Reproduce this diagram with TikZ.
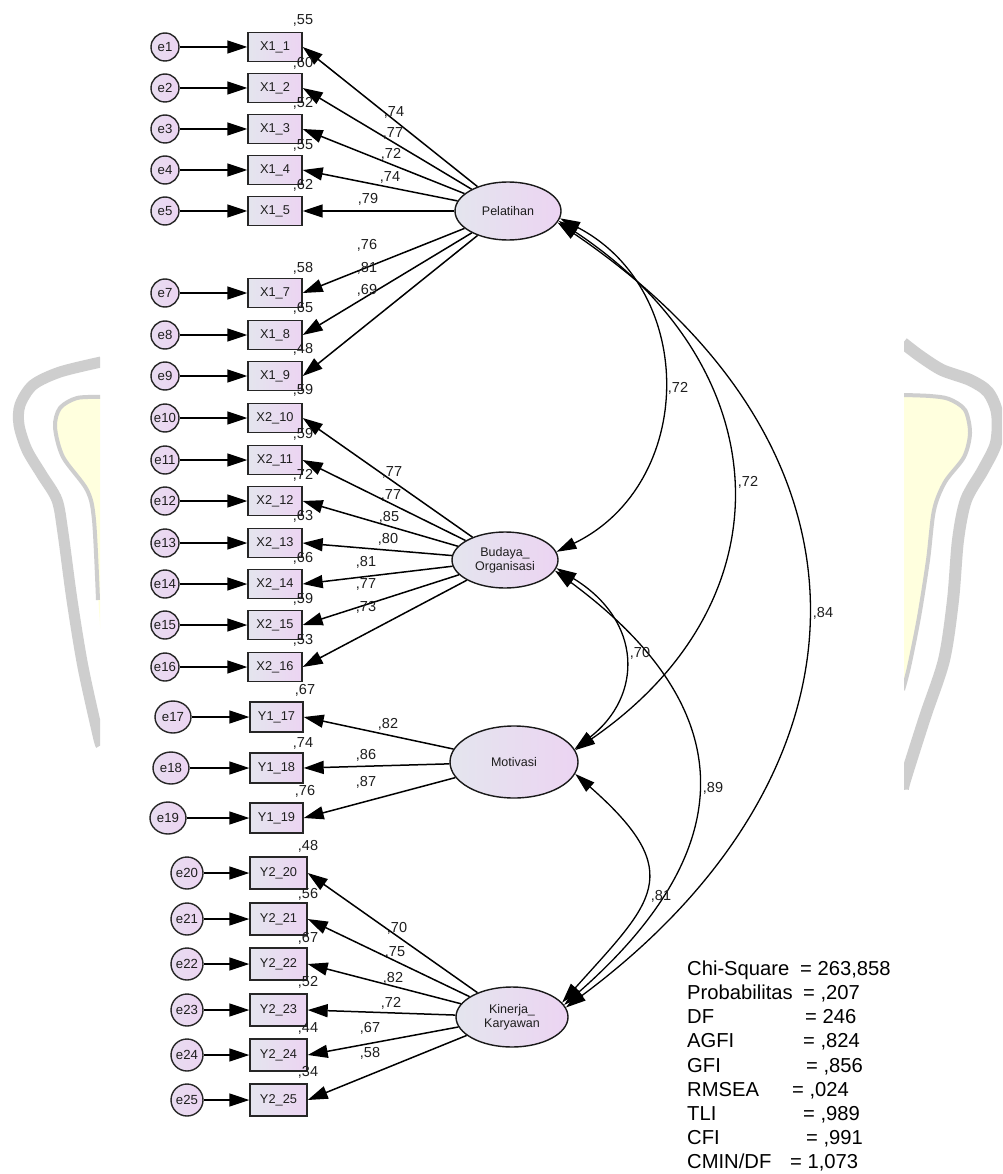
\documentclass[tikz,border=0pt]{standalone}
\usepackage{fontspec}
\setmainfont{Liberation Sans}
\usetikzlibrary{arrows.meta,shapes.geometric}
\definecolor{wmgray}{RGB}{206,206,206}
\definecolor{wmyel}{RGB}{255,255,222}
\definecolor{fillL}{RGB}{228,229,238}
\definecolor{fillR}{RGB}{236,212,242}
\definecolor{txt}{RGB}{30,30,30}
\begin{document}
\begin{tikzpicture}[x=1pt,y=-1pt,
  obs/.style={draw=black!85, line width=1.4pt, left color=fillL, right color=fillR, minimum width=54pt, minimum height=29pt, inner sep=0pt, font=\fontsize{12.8}{13}\selectfont, text=txt},
  err/.style={circle, draw=black!85, line width=1.4pt, left color=fillL!50!fillR, right color=fillR, minimum size=28pt, inner sep=0pt, font=\fontsize{13.2}{12}\selectfont, text=txt},
  errb/.style={ellipse, draw=black!85, line width=1.4pt, left color=fillL!50!fillR, right color=fillR, minimum width=36pt, minimum height=32pt, inner sep=0pt, font=\fontsize{13.2}{12}\selectfont, text=txt},
  lat/.style={ellipse, draw=black!90, line width=1.4pt, left color=fillL, right color=fillR, inner sep=0pt, font=\fontsize{12.5}{14}\selectfont, align=center, text=txt},
  num/.style={font=\fontsize{14.5}{14}\selectfont, inner sep=0pt, anchor=base, text=txt},
  arr/.style={line width=1.5pt, -{Triangle[length=20pt,width=13pt]}},
  cov/.style={line width=1.3pt, {Triangle[length=20pt,width=12pt]}-{Triangle[length=20pt,width=12pt]}},
  stat/.style={font=\fontsize{20.2}{21}\selectfont, inner sep=0pt, anchor=base west, text=black},
]
\useasboundingbox (0,0) rectangle (1002,1174);
\fill[white] (0,0) rectangle (1002,1174);
% watermark, left
\begin{scope}
\clip (0,0) rectangle (100,1174);
\fill[wmyel] plot[smooth] coordinates {(101,397) (77,398) (60,408) (55,427) (63,457) (87,490) (94,520) (98,593) (101,640)} -- cycle;
\draw[wmgray, line width=4pt] plot[smooth] coordinates {(101,397) (77,398) (60,408) (55,427) (63,457) (87,490) (94,520) (98,600)};
\draw[wmgray, line width=11pt] plot[smooth] coordinates {(101,362) (60,372) (33,385) (20,405) (19,425) (27,450) (42,475) (57,500) (63,533) (72,600) (83,667) (98,735) (101,745)};
\end{scope}
% watermark, right
\begin{scope}
\clip (904,0) rectangle (1002,1174);
\fill[wmyel] plot[smooth] coordinates {(903,395) (930,396) (949,399) (965,410) (970,433) (964,457) (945,482) (934,510) (928,560) (919,617) (909,667) (903,690)} -- cycle;
\draw[wmgray, line width=4pt] plot[smooth] coordinates {(903,395) (930,396) (949,399) (965,410) (970,433) (964,457) (945,482) (934,510) (928,560) (919,617) (909,667) (903,690)};
\draw[wmgray, line width=12pt] plot[smooth] coordinates {(903,343) (920,356) (942,370) (970,380) (988,392) (997,413) (996,443) (983,470) (966,500) (958,540) (953,600) (944,660) (925,717) (905,780) (903,790)};
\end{scope}
% latent variables
\node[lat, minimum width=106pt, minimum height=58pt] (pel) at (508,211) {Pelatihan};
\node[lat, minimum width=106pt, minimum height=56pt] (bud) at (505,560) {Budaya\_\\Organisasi};
\node[lat, minimum width=128pt, minimum height=72pt] (mot) at (514,762) {Motivasi};
\node[lat, minimum width=112pt, minimum height=60pt] (kin) at (512,1017) {Kinerja\_\\Karyawan};
% indicators
\foreach \n/\y in {1/47,2/88,3/129,4/170,5/211,7/293,8/335,9/376} {
  \node[obs] (x\n) at (275,\y) {X1\_\n};
  \node[err] (e\n) at (165,\y) {e\n};
  \draw[arr] (e\n) -- (x\n);
  \draw[arr] (pel) -- (x\n.east);
}
\foreach \n/\y in {10/418,11/460,12/501,13/543,14/584,15/625,16/667} {
  \node[obs] (x\n) at (275,\y) {X2\_\n};
  \node[err] (e\n) at (165,\y) {e\n};
  \draw[arr] (e\n) -- (x\n);
  \draw[arr] (bud) -- (x\n.east);
}
\foreach \n/\y/\ex in {17/717/173,18/768/171,19/818/168} {
  \node[obs, minimum width=53pt, minimum height=30pt] (x\n) at (276.5,\y) {Y1\_\n};
  \node[errb] (e\n) at (\ex,\y) {e\n};
  \draw[arr] (e\n) -- (x\n);
  \draw[arr] (mot) -- (x\n.east);
}
\foreach \n/\y in {20/873,21/919,22/964,23/1010,24/1055,25/1100} {
  \node[obs, minimum width=57pt, minimum height=32pt] (x\n) at (278.5,\y) {Y2\_\n};
  \node[err, minimum size=32pt] (e\n) at (187,\y) {e\n};
  \draw[arr] (e\n) -- (x\n);
  \draw[arr] (kin) -- (x\n.east);
}
% covariances
\draw[cov] (pel.-8) .. controls (698,290) and (696,484) .. (bud.9);
\draw[cov] (pel.-11) .. controls (780,368) and (792,601) .. (mot.11);
\draw[cov] (pel.-13) .. controls (900,455) and (876,777) .. (kin.10);
\draw[cov] (bud.-9) .. controls (643,621) and (643,696) .. (mot.12);
\draw[cov] (bud.-12) .. controls (749,714) and (736,854) .. (kin.13);
\draw[cov] (mot.-11) .. controls (689,874) and (652,902) .. (kin.16);
% squared multiple correlations
\foreach \x/\y/\t [count=\i] in {303/20/55,303/63/60,303/103/52,303/145/55,303/185/62,303/267/58,303/307/65,303/348/48,
  303/389/59,303/433/59,303/474/72,303/515/63,303/557/66,303/598/59,303/639/53,
  305/689/67,303/742/74,305/790/76,
  308/845/48,308/893/56,308/937/67,308/981/52,308/1027/44,308/1071/34}
  \node[num] (r\i) at (\x,\y+5) {,\t};
% loadings
\foreach \x/\y/\t [count=\i] in {394/112/74,393/133/77,391/154/72,390/177/74,368/199/79,367/245/76,367/267/81,367/289/69,
  392/471/77,391/494/77,389/516/85,388/538/80,366/561/81,366/583/77,366/606/73,
  388/723/82,366/754/86,366/781/87,
  397/927/70,395/951/75,393/977/82,391/1002/72,370/1027/67,370/1052/58}
  \node[num] (l\i) at (\x,\y+5) {,\t};
% correlations
\foreach \x/\y/\t [count=\i] in {678/387/72,748/481/72,823/612/84,640/652/70,713/787/89,661/895/81}
  \node[num] (c\i) at (\x,\y+5) {,\t};
% fit statistics
\foreach \lab/\val/\vx/\y [count=\i] in {Chi-Square/263{,}858/800/968, Probabilitas/{,}207/803/992, DF/246/805/1016,
  AGFI/{,}824/803/1040, GFI/{,}856/806/1065, RMSEA/{,}024/792/1089, TLI/{,}989/803/1113, CFI/{,}991/806/1137, CMIN\slash DF/1{,}073/790/1161} {
  \node[stat] (s\i) at (687,\y+7) {\lab};
  \node[stat] (v\i) at (\vx,\y+7) {= \val};
}
\end{tikzpicture}
\end{document}
